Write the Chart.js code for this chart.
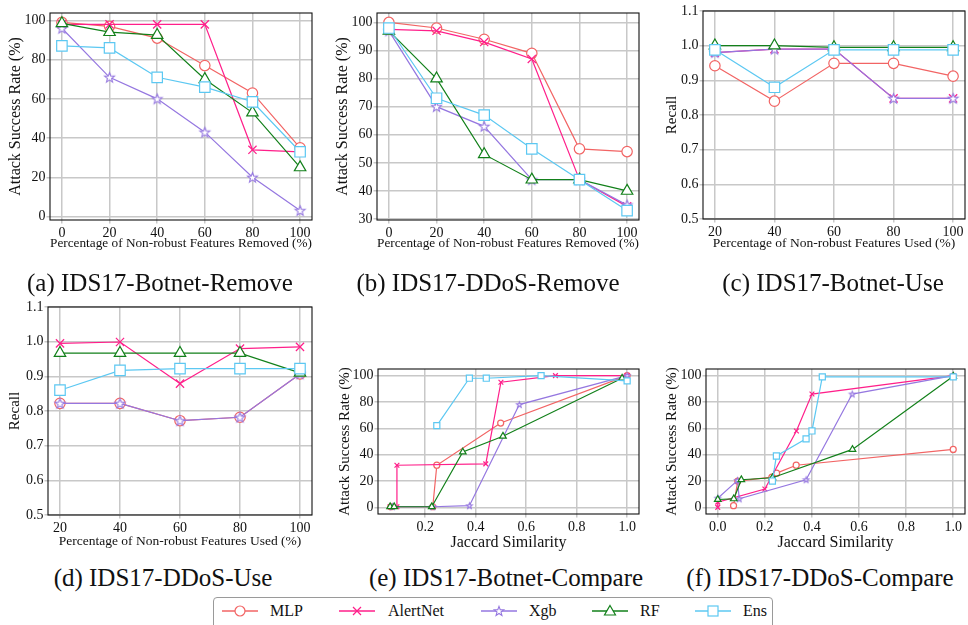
<!DOCTYPE html>
<html><head><meta charset="utf-8">
<script src="https://cdn.jsdelivr.net/npm/chart.js@4.4.0/dist/chart.umd.min.js"></script>
<style>
html,body{margin:0;padding:0;width:968px;height:625px;overflow:hidden;background:#fff;}
canvas.pc{position:absolute;}
.cap{position:absolute;font-family:"Liberation Serif","Times New Roman","DejaVu Serif",serif;font-size:25px;color:#111;white-space:nowrap;transform:translate(-50%,-50%);}
#legend{position:absolute;left:213px;top:597px;width:560px;height:34px;border:1px solid #9a9a9a;border-radius:4px;box-sizing:border-box;font-family:"Liberation Serif","Times New Roman","DejaVu Serif",serif;font-size:16px;color:#111;}
#legend .k{position:absolute;top:6px;}
#legend .t{position:absolute;top:4px;white-space:nowrap;}
</style></head><body>
<div id="root"></div>
<script>
// ---------- data ----------
const seriesNames = ['MLP','AlertNet','Xgb','RF','Ens'];
const xRemove = [0,20,40,60,80,100];
const xUse = [20,40,60,80,100];
const yTicksPct = [0,20,40,60,80,100];
const yTicksB = [30,40,50,60,70,80,90,100];
const yTicksRecall = [0.5,0.6,0.7,0.8,0.9,1.0,1.1];
const xTicksUse = [20,40,60,80,100];
const xTicksJacE = [0.2,0.4,0.6,0.8,1.0];
const xTicksJacF = [0.0,0.2,0.4,0.6,0.8,1.0];

// (a) IDS17-Botnet-Remove
const aMLP      = [99, 97, 91, 77, 63, 35];
const aAlertNet = [98, 98, 98, 98, 34, 33];
const aXgb      = [96, 71, 60, 43, 20, 3];
const aRF       = [98.5, 94, 92.5, 70, 53, 25];
const aEns      = [87, 86, 71, 66, 58.5, 33];
// (b) IDS17-DDoS-Remove
const bMLP      = [100, 98, 94, 89, 55, 54];
const bAlertNet = [97.5, 97, 93, 87, 44, 34.5];
const bXgb      = [97, 70, 63, 44, 44, 35];
const bRF       = [97, 80, 53, 44, 44, 40];
const bEns      = [98, 73, 67, 55, 44, 33];
// (c) IDS17-Botnet-Use
const cMLP      = [0.942, 0.840, 0.949, 0.949, 0.912];
const cAlertNet = [0.980, 0.990, 0.990, 0.848, 0.848];
const cXgb      = [0.980, 0.990, 0.990, 0.848, 0.848];
const cRF       = [1.000, 1.000, 0.995, 0.995, 0.995];
const cEns      = [0.988, 0.880, 0.988, 0.988, 0.988];
// (d) IDS17-DDoS-Use
const dMLP      = [0.822, 0.822, 0.772, 0.782, 0.907];
const dAlertNet = [0.995, 0.999, 0.879, 0.980, 0.985];
const dXgb      = [0.822, 0.822, 0.772, 0.782, 0.907];
const dRF       = [0.967, 0.967, 0.967, 0.967, 0.910];
const dEns      = [0.860, 0.917, 0.922, 0.922, 0.922];
// (e) IDS17-Botnet-Compare  (Jaccard similarity, attack success rate)
const eMLPx      = [0.064, 0.23, 0.246, 0.499, 1.0];
const eMLPy      = [0.5, 0.5, 32, 64, 100];
const eAlertNetx = [0.061, 0.088, 0.088, 0.44, 0.5, 0.716, 1.0];
const eAlertNety = [0.5, 0.5, 32, 33, 95, 100, 100];
const eXgbx      = [0.07, 0.23, 0.375, 0.573, 1.0];
const eXgby      = [0.5, 0.5, 1.3, 78, 100];
const eRFx       = [0.061, 0.077, 0.226, 0.349, 0.508, 0.98];
const eRFy       = [0.5, 0.5, 0.5, 42, 54, 98];
const eEnsx      = [0.246, 0.375, 0.442, 0.659, 1.0];
const eEnsy      = [62, 98, 98, 100, 96];
// (f) IDS17-DDoS-Compare
const fMLPx      = [0.067, 0.085, 0.23, 0.25, 0.333, 1.0];
const fMLPy      = [1.3, 20, 23, 26, 32, 44];
const fAlertNetx = [0, 0, 0.2, 0.334, 0.4, 1.0];
const fAlertNety = [0, 4, 14, 58, 86, 100];
const fXgbx      = [0, 0.084, 0.091, 0.375, 0.571, 1.0];
const fXgby      = [7, 20.5, 6.5, 21, 86, 100];
const fRFx       = [0, 0.068, 0.1, 0.232, 0.572, 1.0];
const fRFy       = [6, 6.5, 21, 22.5, 44, 99.5];
const fEnsx      = [0.232, 0.249, 0.375, 0.4, 0.444, 1.0];
const fEnsy      = [20, 39, 52, 58, 99, 99];

// ---------- styles ----------
const COLORS = ['#f26464', '#ff1f8a', '#9577e0', '#12801a', '#5cc8f2'];
const FONT = "'Liberation Serif', 'Times New Roman', 'DejaVu Serif', serif";

function starCanvas(color, R, lw){
  const s = Math.ceil(2*R + lw*2 + 2);
  const c = document.createElement('canvas'); c.width = s; c.height = s;
  const g = c.getContext('2d');
  g.translate(s/2, s/2 + R*0.08);
  g.beginPath();
  for (let i = 0; i < 10; i++) {
    const r = i % 2 === 0 ? R : R*0.42;
    const a = -Math.PI/2 + i*Math.PI/5;
    const px = r*Math.cos(a), py = r*Math.sin(a);
    if (i === 0) g.moveTo(px, py); else g.lineTo(px, py);
  }
  g.closePath(); g.fillStyle = '#fff'; g.fill();
  g.lineWidth = lw; g.strokeStyle = color; g.stroke();
  return c;
}

function markerStyles(big){
  const k = big ? 1 : 0.58;
  return [
    {pointStyle:'circle',   r: 5.2*k},
    {pointStyle:'crossRot', r: 5.8*k},
    {pointStyle: starCanvas(COLORS[2], 5.2*k, 1.1), r: 5*k},
    {pointStyle:'triangle', r: 6.6*k},
    {pointStyle:'rect',     r: 7.4*k},
  ];
}

function makeDatasets(xsList, ysList, big){
  const ms = markerStyles(big);
  return ysList.map((ys, i) => {
    const xs = xsList[i];
    return {
      label: seriesNames[i],
      data: ys.map((y, j) => ({x: xs[j], y})),
      borderColor: COLORS[i],
      backgroundColor: COLORS[i],
      borderWidth: 1.2,
      pointStyle: ms[i].pointStyle,
      pointRadius: ms[i].r,
      pointHoverRadius: ms[i].r,
      pointBorderColor: COLORS[i],
      pointBackgroundColor: '#fff',
      pointBorderWidth: 1.2,
      tension: 0,
      order: 4 - i,
      clip: false
    };
  });
}

const framePlugin = {
  id: 'frame',
  afterDraw(chart){
    const {ctx, chartArea: a} = chart;
    ctx.save();
    ctx.strokeStyle = '#111'; ctx.lineWidth = 1.1;
    ctx.strokeRect(a.left, a.top, a.right - a.left, a.bottom - a.top);
    ctx.restore();
  }
};

const panels = [
  {L:50, R:312, T:13, B:220, yTitleX:16, xTitleY:244, xmin:-5, xmax:105, xticks:xRemove, xfmt:v=>String(v),
   ymin:-1.8, ymax:103.8, yticks:yTicksPct, yfmt:v=>String(v), ytitle:'Attack Success Rate (%)', ytSize:16,
   xtitle:'Percentage of Non-robust Features Removed (%)', xtSize:13.5,
   xs:[xRemove,xRemove,xRemove,xRemove,xRemove], ys:[aMLP,aAlertNet,aXgb,aRF,aEns], big:true},
  {L:377, R:639, T:13, B:220, yTitleX:343, xTitleY:244, xmin:-5, xmax:105, xticks:xRemove, xfmt:v=>String(v),
   ymin:29.65, ymax:103.35, yticks:yTicksB, yfmt:v=>String(v), ytitle:'Attack Success Rate (%)', ytSize:16,
   xtitle:'Percentage of Non-robust Features Removed (%)', xtSize:13.5,
   xs:[xRemove,xRemove,xRemove,xRemove,xRemove], ys:[bMLP,bAlertNet,bXgb,bRF,bEns], big:true},
  {L:703, R:965, T:11, B:219, yTitleX:672, xTitleY:244, xmin:16, xmax:104, xticks:xTicksUse, xfmt:v=>String(v),
   ymin:0.5, ymax:1.1, yticks:yTicksRecall, yfmt:v=>v.toFixed(1), ytitle:'Recall', ytSize:15,
   xtitle:'Percentage of Non-robust Features Used (%)', xtSize:13.5,
   xs:[xUse,xUse,xUse,xUse,xUse], ys:[cMLP,cAlertNet,cXgb,cRF,cEns], big:true},
  {L:48, R:312, T:307, B:515, yTitleX:15, xTitleY:542, xmin:16, xmax:104, xticks:xTicksUse, xfmt:v=>String(v),
   ymin:0.5, ymax:1.1, yticks:yTicksRecall, yfmt:v=>v.toFixed(1), ytitle:'Recall', ytSize:15,
   xtitle:'Percentage of Non-robust Features Used (%)', xtSize:13.5,
   xs:[xUse,xUse,xUse,xUse,xUse], ys:[dMLP,dAlertNet,dXgb,dRF,dEns], big:true},
  {L:378, R:639, T:369, B:514, yTitleX:345, xTitleY:542, xmin:0.013, xmax:1.047, xticks:xTicksJacE, xfmt:v=>v.toFixed(1),
   ymin:-5, ymax:105, yticks:yTicksPct, yfmt:v=>String(v), ytitle:'Attack Success Rate (%)', ytSize:15,
   xtitle:'Jaccard Similarity', xtSize:16,
   xs:[eMLPx,eAlertNetx,eXgbx,eRFx,eEnsx], ys:[eMLPy,eAlertNety,eXgby,eRFy,eEnsy], big:false},
  {L:706, R:965, T:369, B:514, yTitleX:672, xTitleY:542, xmin:-0.05, xmax:1.05, xticks:xTicksJacF, xfmt:v=>v.toFixed(1),
   ymin:-5, ymax:105, yticks:yTicksPct, yfmt:v=>String(v), ytitle:'Attack Success Rate (%)', ytSize:15,
   xtitle:'Jaccard Similarity', xtSize:16,
   xs:[fMLPx,fAlertNetx,fXgbx,fRFx,fEnsx], ys:[fMLPy,fAlertNety,fXgby,fRFy,fEnsy], big:false},
];

const captions = [
  ['(a) IDS17-Botnet-Remove', 160, 283],
  ['(b) IDS17-DDoS-Remove', 488, 283],
  ['(c) IDS17-Botnet-Use', 833, 283],
  ['(d) IDS17-DDoS-Use', 163, 578],
  ['(e) IDS17-Botnet-Compare', 506, 578],
  ['(f) IDS17-DDoS-Compare', 820, 578],
];

const root = document.getElementById('root');
const GRID = '#c8c8c8';

function build(){
panels.forEach(p => {
  const lhY = p.ytSize * 1.2, lhX = p.xtSize * 1.2;
  const cl = Math.round(p.yTitleX - lhY/2);
  const ct = p.T - 20;
  const cr = p.R + 24;
  const cb = Math.round(p.xTitleY + lhX/2);
  const cv = document.createElement('canvas');
  cv.className = 'pc';
  cv.width = cr - cl; cv.height = cb - ct;
  cv.style.left = cl + 'px'; cv.style.top = ct + 'px';
  cv.style.width = (cr - cl) + 'px'; cv.style.height = (cb - ct) + 'px';
  root.appendChild(cv);
  const yW = p.L - cl, xH = cb - p.B;
  new Chart(cv, {
    type: 'line',
    data: { datasets: makeDatasets(p.xs, p.ys, p.big) },
    options: {
      responsive: false, animation: false, devicePixelRatio: 1,
      layout: { padding: { top: p.T - ct, right: cr - p.R, left: 0, bottom: 0 } },
      plugins: { legend: {display:false}, tooltip: {enabled:false} },
      scales: {
        x: {
          type: 'linear', min: p.xmin, max: p.xmax,
          afterBuildTicks: s => { s.ticks = p.xticks.map(v => ({value: v})); },
          afterFit: s => { s.height = xH; },
          ticks: { callback: v => p.xfmt(v), color:'#111', font:{family:FONT, size:14}, padding: 1, maxRotation:0, autoSkip:false },
          grid: { color: GRID, lineWidth: 1.5, drawTicks: true, tickLength: 3.5 },
          border: { display: false },
          title: { display: true, text: p.xtitle, color:'#111', font:{family:FONT, size:p.xtSize}, padding: 0 }
        },
        y: {
          type: 'linear', min: p.ymin, max: p.ymax,
          afterBuildTicks: s => { s.ticks = p.yticks.map(v => ({value: v})); },
          afterFit: s => { s.width = yW; },
          ticks: { callback: v => p.yfmt(v), color:'#111', font:{family:FONT, size:14}, padding: 1, autoSkip:false },
          grid: { color: GRID, lineWidth: 1.5, drawTicks: true, tickLength: 3.5 },
          border: { display: false },
          title: { display: true, text: p.ytitle, color:'#111', font:{family:FONT, size:p.ytSize}, padding: 0 }
        }
      }
    },
    plugins: [framePlugin]
  });
});

captions.forEach(([t, x, y]) => {
  const d = document.createElement('div');
  d.className = 'cap'; d.textContent = t;
  d.style.left = x + 'px'; d.style.top = y + 'px';
  root.appendChild(d);
});

// ---------- legend ----------
const leg = document.createElement('div'); leg.id = 'legend'; root.appendChild(leg);
const legKeyX = [8, 125, 267, 378, 481];
const legTextX = [56, 174, 315, 426, 529];
function keySVG(i){
  const c = COLORS[i];
  let m = '';
  if (i === 0) m = `<circle cx="18" cy="7" r="5" fill="#fff" stroke="${c}" stroke-width="1.2"/>`;
  if (i === 1) m = `<path d="M14 3 L22 11 M22 3 L14 11" stroke="${c}" stroke-width="1.2"/>`;
  if (i === 2) {
    let pts = [];
    for (let k = 0; k < 10; k++) { const r = k%2===0 ? 5 : 2.1; const a = -Math.PI/2 + k*Math.PI/5; pts.push((18 + r*Math.cos(a)).toFixed(2) + ',' + (7.4 + r*Math.sin(a)).toFixed(2)); }
    m = `<polygon points="${pts.join(' ')}" fill="#fff" stroke="${c}" stroke-width="1.1"/>`;
  }
  if (i === 3) m = `<polygon points="18,1.5 23.5,11 12.5,11" fill="#fff" stroke="${c}" stroke-width="1.2"/>`;
  if (i === 4) m = `<rect x="13" y="2" width="10" height="10" fill="#fff" stroke="${c}" stroke-width="1.2"/>`;
  return `<svg width="36" height="14" viewBox="0 0 36 14"><line x1="0" y1="7" x2="36" y2="7" stroke="${c}" stroke-width="1.4"/>${m}</svg>`;
}
seriesNames.forEach((n, i) => {
  const k = document.createElement('div'); k.className = 'k'; k.style.left = legKeyX[i] + 'px'; k.innerHTML = keySVG(i); leg.appendChild(k);
  const t = document.createElement('div'); t.className = 't'; t.style.left = legTextX[i] + 'px'; t.textContent = n; leg.appendChild(t);
});
}
if (document.fonts && document.fonts.load) {
  Promise.all([document.fonts.load("14px 'Liberation Serif'"), document.fonts.load("14px 'Times New Roman'")]).then(build, build);
} else build();
</script>
</body></html>
